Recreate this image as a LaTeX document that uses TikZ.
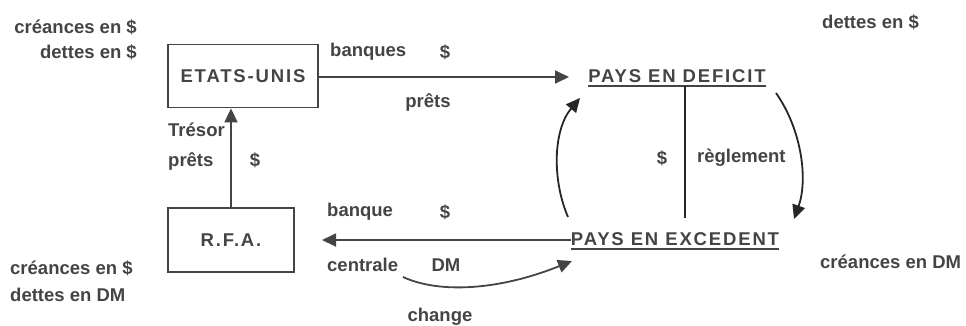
\documentclass[tikz,border=0pt]{standalone}
\usepackage{fontspec}
\setmainfont{Liberation Sans}
\usetikzlibrary{arrows.meta}
\definecolor{ink}{HTML}{444444}
\definecolor{dark}{HTML}{262626}
\begin{document}
\begin{tikzpicture}[x=1pt,y=-1pt,
  lbl/.style={inner sep=0pt,text=ink,font=\fontsize{18.5}{22}\selectfont\bfseries},
  capstxt/.style={inner sep=0pt,text=ink,font=\fontsize{18.5}{22}\selectfont\bfseries\addfontfeature{LetterSpace=10}},
  boxn/.style={draw=ink,line width=1.8pt,inner sep=0pt,text=ink,font=\fontsize{18.5}{22}\selectfont\bfseries\addfontfeature{LetterSpace=10}},
  ln/.style={draw=ink,line width=1.8pt},
  arr/.style={ln,-{Triangle[length=14pt,width=13pt]}},
  darr/.style={draw=dark,line width=1.8pt,-{Triangle[length=14pt,width=13pt]}}]
\useasboundingbox (0,0) rectangle (966,325);
% boxes
\node[boxn,minimum width=150pt,minimum height=63pt] (eu) at (243,76) {ETATS-UNIS};
\node[boxn,minimum width=126pt,minimum height=64pt] (rfa) at (231,240) {R.F.A.};
% countries
\node[capstxt] (def) at (677,76) {PAYS EN DEFICIT};
\node[capstxt] (exc) at (675,239) {PAYS EN EXCEDENT};
\draw[ln] ([yshift=-3pt]def.south west) -- ([yshift=-3pt]def.south east);
\draw[ln] ([yshift=-3pt]exc.south west) -- ([yshift=-3pt]exc.south east);
% corner labels
\node[lbl,anchor=east] (l1) at (137,27) {créances en \$};
\node[lbl,anchor=east] (l2) at (137,52) {dettes en \$};
\node[lbl,anchor=west] (l3) at (10,268) {créances en \$};
\node[lbl,anchor=west] (l4) at (10,295) {dettes en DM};
\node[lbl,anchor=west] (r1) at (822,22) {dettes en \$};
\node[lbl,anchor=west] (r2) at (820,262) {créances en DM};
% top arrow
\coordinate (deftip) at (569,77);
\draw[arr] (eu.east |- deftip) -- (deftip);
\node[lbl,anchor=west] (banques) at (330,52) {banques};
\node[lbl] (d1) at (445,52) {\$};
\node[lbl] (prets1) at (428,103) {prêts};
% vertical settlement line
\coordinate (vtop) at (685,86);
\coordinate (vbot) at (685,218);
\draw[ln,draw=dark] (vtop) -- (vbot);
\node[lbl] (d2) at (662,158) {\$};
\node[lbl,anchor=west] (regl) at (697,158) {règlement};
% curved arrows
\coordinate (la) at (568,217);
\coordinate (lb) at (580,98);
\draw[darr] (la) .. controls (552,180) and (553,130) .. (lb);
\coordinate (ra) at (776,93);
\coordinate (rb) at (794,219);
\draw[darr] (ra) .. controls (802,130) and (808,180) .. (rb);
% bottom arrow
\coordinate (rfatip) at (322,240);
\draw[arr] (exc.west |- rfatip) -- (rfatip);
\node[lbl,anchor=west] (banque) at (327,212) {banque};
\node[lbl] (d3) at (445,212) {\$};
\node[lbl,anchor=west] (centrale) at (327,265) {centrale};
\node[lbl] (dm) at (446,265) {DM};
\coordinate (ca) at (403,277);
\coordinate (cb) at (572,261);
\draw[arr] (ca) .. controls (440,294) and (500,290) .. (cb);
\node[lbl] (change) at (440,317) {change};
% vertical arrow RFA -> EU
\draw[arr] (rfa.north) -- (eu.south -| rfa.north);
\node[lbl,anchor=west] (tresor) at (168,130) {Trésor};
\node[lbl,anchor=west] (prets2) at (168,162) {prêts};
\node[lbl] (d4) at (255,160) {\$};
\end{tikzpicture}
\end{document}
